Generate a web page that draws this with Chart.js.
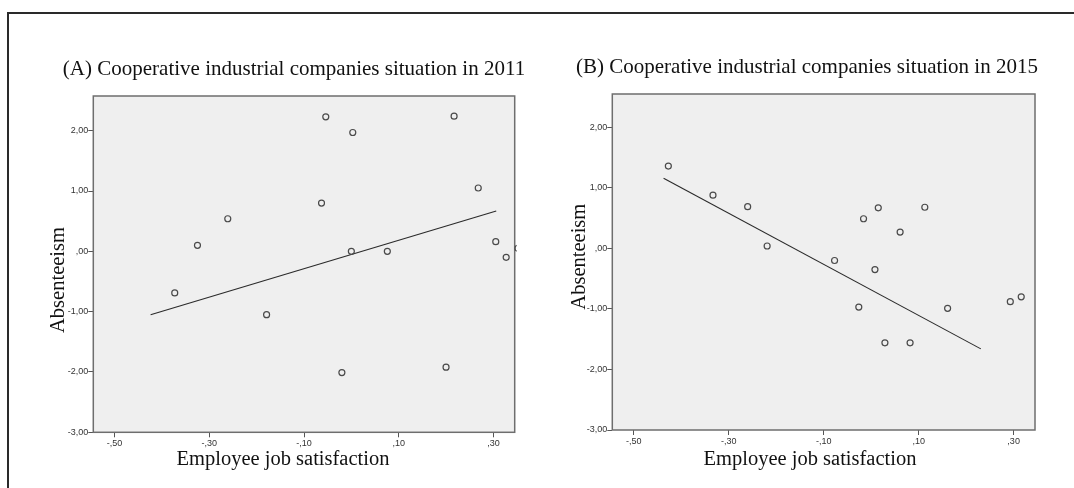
<!DOCTYPE html>
<html>
<head>
<meta charset="utf-8">
<script src="https://cdn.jsdelivr.net/npm/chart.js@4.4.1/dist/chart.umd.min.js"></script>
<style>
  html, body { margin: 0; padding: 0; background: #fff; }
  body { width: 1074px; height: 488px; position: relative; overflow: hidden; }
  #frame { position: absolute; left: 7px; top: 12px; width: 1070px; height: 480px;
           border-top: 2px solid #2a2a2a; border-left: 2px solid #2a2a2a; }
  .panel { position: absolute; top: 0; height: 488px; }
  #panelA { left: 0; width: 534px; }
  #panelB { left: 534px; width: 540px; }
</style>
</head>
<body>
<div id="frame"></div>
<div class="panel" id="panelA"><canvas id="chartA"></canvas></div>
<div class="panel" id="panelB"><canvas id="chartB"></canvas></div>
<script>
// tick values used on both panels
var xTicks = [-0.5, -0.3, -0.1, 0.1, 0.3];
var yTicks = [-3, -2, -1, 0, 1, 2];

// (A) 2011
var satisfaction2011 = [-0.373, -0.325, -0.261, -0.179, -0.063, -0.054, 0.003, 0.000, -0.020, 0.076, 0.217, 0.200, 0.268, 0.305, 0.327, 0.352];
var absenteeism2011  = [-0.69, 0.10, 0.54, -1.05, 0.80, 2.23, 1.97, 0.00, -2.01, 0.00, 2.24, -1.92, 1.05, 0.16, -0.10, 0.05];
var fit2011X = [-0.424, 0.306];
var fit2011Y = [-1.05, 0.67];

// (B) 2015
var satisfaction2015 = [-0.427, -0.333, -0.260, -0.219, -0.077, -0.026, -0.016, 0.015, 0.008, 0.029, 0.061, 0.082, 0.113, 0.161, 0.293, 0.316];
var absenteeism2015  = [1.36, 0.88, 0.69, 0.04, -0.20, -0.97, 0.49, 0.67, -0.35, -1.56, 0.27, -1.56, 0.68, -0.99, -0.88, -0.80];
var fit2015X = [-0.437, 0.231];
var fit2015Y = [1.16, -1.66];

var titleA = '(A) Cooperative industrial companies situation in 2011';
var titleB = '(B) Cooperative industrial companies situation in 2015';
var xTitle = 'Employee job satisfaction';
var yTitle = 'Absenteeism';

function toPoints(xs, ys) {
  return xs.map(function (x, i) { return { x: x, y: ys[i] }; });
}

// SPSS style numbers: ",50"  "-1,00"
function spssNum(v) {
  var s = Math.abs(v).toFixed(2).replace('.', ',');
  if (s.charAt(0) === '0') s = s.substring(1);
  return (v < 0 ? '-' : '') + s;
}

var panelDecor = {
  id: 'panelDecor',
  beforeDraw: function (chart) {
    var a = chart.chartArea, ctx = chart.ctx;
    ctx.save();
    ctx.fillStyle = '#efefef';
    ctx.fillRect(a.left, a.top, a.right - a.left, a.bottom - a.top);
    ctx.restore();
  },
  beforeDatasetsDraw: function (chart) {
    var a = chart.chartArea, ctx = chart.ctx;
    ctx.save();
    ctx.strokeStyle = '#6e6e6e';
    ctx.lineWidth = 1.5;
    ctx.strokeRect(a.left, a.top, a.right - a.left, a.bottom - a.top);
    ctx.restore();
  },
  afterDraw: function (chart, args, opts) {
    var ctx = chart.ctx;
    ctx.save();
    ctx.fillStyle = '#111';
    ctx.textBaseline = 'alphabetic';
    ctx.textAlign = 'center';
    ctx.font = '21px "Liberation Serif"';
    ctx.fillText(opts.title, opts.titleX, opts.titleY);
    ctx.font = '20.5px "Liberation Serif"';
    ctx.fillText(xTitle, opts.xLabelX, opts.xLabelY);
    ctx.translate(opts.yLabelX, opts.yLabelY);
    ctx.rotate(-Math.PI / 2);
    ctx.fillText(yTitle, 0, 0);
    ctx.restore();
  }
};

function makeChart(id, pts, fitX, fitY, box, text) {
  return new Chart(document.getElementById(id), {
    type: 'scatter',
    data: {
      datasets: [
        {
          data: toPoints(pts[0], pts[1]),
          pointStyle: 'circle',
          pointRadius: 3,
          pointBackgroundColor: 'rgba(0,0,0,0)',
          pointBorderColor: '#4a4a4a',
          pointBorderWidth: 1.2,
          clip: { left: 0, top: 0, right: 2, bottom: 0 }
        },
        {
          type: 'line',
          data: toPoints(fitX, fitY),
          borderColor: '#2a2a2a',
          borderWidth: 1.1,
          pointRadius: 0,
          fill: false
        }
      ]
    },
    options: {
      responsive: true,
      maintainAspectRatio: false,
      animation: false,
      layout: { padding: { top: box.top, right: box.right, bottom: 0, left: 0 } },
      plugins: {
        legend: { display: false },
        tooltip: { enabled: false },
        panelDecor: text
      },
      scales: {
        x: {
          type: 'linear',
          min: -0.545,
          max: 0.345,
          afterBuildTicks: function (s) { s.ticks = xTicks.map(function (v) { return { value: v }; }); },
          afterFit: function (s) { s.height = box.xHeight; },
          border: { display: false },
          grid: { drawOnChartArea: false, drawTicks: true, tickLength: 5, color: '#555' },
          ticks: {
            padding: 1,
            color: '#333',
            font: { family: 'Liberation Sans', size: 9 },
            callback: function (v) { return spssNum(v); }
          }
        },
        y: {
          type: 'linear',
          min: -3,
          max: box.yMax,
          afterBuildTicks: function (s) { s.ticks = yTicks.map(function (v) { return { value: v }; }); },
          afterFit: function (s) { s.width = box.yWidth; },
          border: { display: false },
          grid: { drawOnChartArea: false, drawTicks: true, tickLength: 5, color: '#555' },
          ticks: {
            padding: 0,
            color: '#333',
            font: { family: 'Liberation Sans', size: 9 },
            callback: function (v) { return spssNum(v); }
          }
        }
      }
    },
    plugins: [panelDecor]
  });
}

makeChart('chartA', [satisfaction2011, absenteeism2011], fit2011X, fit2011Y,
  { top: 96, right: 19.3, xHeight: 55.7, yWidth: 93.3, yMax: 2.575 },
  { title: titleA, titleX: 294, titleY: 75, xLabelX: 283, xLabelY: 465, yLabelX: 63.5, yLabelY: 280 });

makeChart('chartB', [satisfaction2015, absenteeism2015], fit2015X, fit2015Y,
  { top: 94, right: 39, xHeight: 58, yWidth: 78.3, yMax: 2.551 },
  { title: titleB, titleX: 273, titleY: 73.3, xLabelX: 276, xLabelY: 465, yLabelX: 50.5, yLabelY: 256.7 });
</script>
</body>
</html>
